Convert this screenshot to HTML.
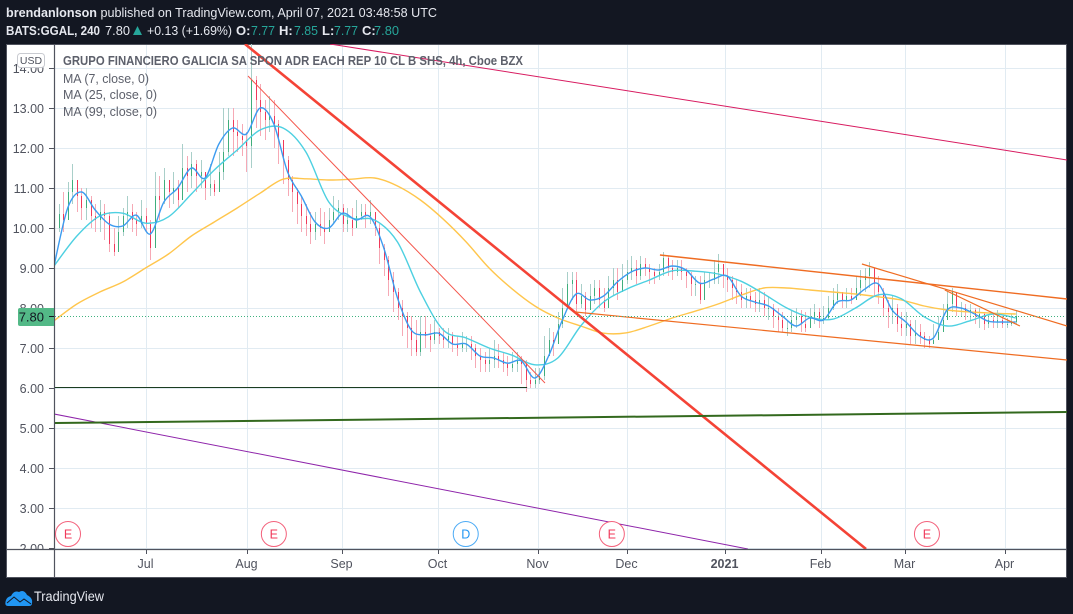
<!DOCTYPE html>
<html lang="en"><head><meta charset="utf-8"><title>GGAL chart</title>
<style>
html,body{margin:0;padding:0;background:#131722;width:1073px;height:614px;overflow:hidden}
svg{display:block;font-family:"Liberation Sans",sans-serif}
</style></head>
<body>
<svg id="chart" width="1073" height="614" viewBox="0 0 1073 614" xmlns="http://www.w3.org/2000/svg">
<defs><clipPath id="plot"><rect x="55" y="44" width="1012" height="505"/></clipPath>
<clipPath id="yaxis"><rect x="7" y="44" width="47" height="505"/></clipPath></defs>
<rect x="0" y="0" width="1073" height="614" fill="#131722"/>
<text x="6" y="17" font-size="13" fill="#e6e8ef" textLength="431" lengthAdjust="spacingAndGlyphs"><tspan font-weight="bold">brendanlonson</tspan> published on TradingView.com, April 07, 2021 03:48:58 UTC</text>
<text x="6" y="35" font-size="13" font-weight="bold" fill="#e6e8ef" textLength="94" lengthAdjust="spacingAndGlyphs">BATS:GGAL, 240</text>
<text x="105" y="35" font-size="13" fill="#e6e8ef" textLength="25" lengthAdjust="spacingAndGlyphs">7.80</text>
<path d="M133 35 L137.5 26 L142 35 Z" fill="#26a69a"/>
<text x="147" y="35" font-size="13" fill="#e6e8ef" textLength="85" lengthAdjust="spacingAndGlyphs">+0.13 (+1.69%)</text>
<text x="236" y="35" font-size="13" font-weight="bold" fill="#e6e8ef">O:</text>
<text x="251" y="35" font-size="13" fill="#26a69a" textLength="24" lengthAdjust="spacingAndGlyphs">7.77</text>
<text x="279" y="35" font-size="13" font-weight="bold" fill="#e6e8ef">H:</text>
<text x="294" y="35" font-size="13" fill="#26a69a" textLength="24" lengthAdjust="spacingAndGlyphs">7.85</text>
<text x="322" y="35" font-size="13" font-weight="bold" fill="#e6e8ef">L:</text>
<text x="334" y="35" font-size="13" fill="#26a69a" textLength="24" lengthAdjust="spacingAndGlyphs">7.77</text>
<text x="362" y="35" font-size="13" font-weight="bold" fill="#e6e8ef">C:</text>
<text x="374" y="35" font-size="13" fill="#26a69a" textLength="25" lengthAdjust="spacingAndGlyphs">7.80</text>
<rect x="6.5" y="44.5" width="1060" height="533" fill="#ffffff" stroke="#50535e"/>
<g id="grid"></g>
<g id="ylabels" clip-path="url(#yaxis)"></g>
<g id="candles" clip-path="url(#plot)"></g>
<g id="mas" clip-path="url(#plot)"></g>
<g id="drawings" clip-path="url(#plot)"></g>
<line x1="55" x2="1066" y1="316.5" y2="316.5" stroke="#3fb27f" stroke-width="1" stroke-dasharray="1 2"/>
<line x1="54.5" x2="54.5" y1="44" y2="578" stroke="#50535e" stroke-width="1.2"/>
<line x1="7" x2="1066" y1="549.5" y2="549.5" stroke="#50535e" stroke-width="1.2"/>
<g id="xlabels"></g>
<g id="earn"></g>
<path d="M20 308 H54 V326 H20 Q18 326 18 324 V310 Q18 308 20 308 Z" fill="#53b987"/>
<text x="44" y="321.5" font-size="13" text-anchor="end" fill="#131722">7.80</text>
<line x1="49" x2="54" y1="316.5" y2="316.5" stroke="#131722"/>
<rect x="17.5" y="53.5" width="27" height="14" rx="3" fill="#ffffff" stroke="#c9cbd1"/>
<text x="31" y="64" font-size="10.5" text-anchor="middle" fill="#50535e">USD</text>
<text x="63" y="65" font-size="12.5" font-weight="bold" fill="#5d606b" textLength="460" lengthAdjust="spacingAndGlyphs">GRUPO FINANCIERO GALICIA SA SPON ADR EACH REP 10 CL B SHS, 4h, Cboe BZX</text>
<text x="63" y="83" font-size="13" fill="#5d606b" textLength="86" lengthAdjust="spacingAndGlyphs">MA (7, close, 0)</text>
<text x="63" y="99" font-size="13" fill="#5d606b" textLength="94" lengthAdjust="spacingAndGlyphs">MA (25, close, 0)</text>
<text x="63" y="116" font-size="13" fill="#5d606b" textLength="94" lengthAdjust="spacingAndGlyphs">MA (99, close, 0)</text>
<g>
<path d="M8 606 Q4 606 6 600 Q7 597 11 596 Q14 590 19 592 Q24 589 27 595 Q33 598 32 603 Q32 606 29 606 Z" fill="#2196f3"/>
<path d="M7 603 L14 597 L20 602 L24 599 L31 604" fill="none" stroke="#131722" stroke-width="1"/>
<text x="34" y="601" font-size="13.5" fill="#e6e8ef" textLength="70" lengthAdjust="spacingAndGlyphs">TradingView</text>
</g>
</svg>
<script>
const closes=[10.0,10.35,10.2,10.9,11.2,10.8,10.5,10.7,10.3,10.2,
10.4,10.3,9.6,9.4,9.9,10.3,10.4,10.2,10.1,10.3,
10.1,9.5,10.8,10.7,11.2,10.9,11.0,10.7,11.5,11.3,
11.6,11.3,11.4,11.0,11.1,10.9,11.4,11.9,12.7,12.4,
12.3,12.2,12.05,13.7,13.2,12.9,12.7,12.8,12.6,12.2,
11.7,11.2,10.9,10.6,10.3,10.1,9.9,10.1,10.0,9.9,
10.2,10.4,10.5,10.1,10.2,10.0,10.3,10.4,10.3,10.4,
10.0,9.5,9.2,8.7,8.4,8.0,7.8,7.5,7.2,6.9,
7.4,7.3,7.2,7.4,7.3,7.2,7.3,7.1,7.0,7.1,
7.1,7.0,6.8,6.7,6.6,6.7,6.8,6.7,6.6,6.5,
6.6,6.7,6.6,6.2,6.1,6.2,6.3,6.8,7.2,7.1,
7.6,8.0,8.6,8.7,8.1,8.3,7.95,8.3,8.5,8.2,
8.0,8.5,8.7,8.4,8.7,8.9,9.0,8.8,9.1,9.0,
8.9,8.8,8.9,9.25,9.0,8.9,9.0,8.9,8.8,8.6,
8.6,8.2,8.7,8.7,8.9,9.1,8.8,8.7,8.5,8.4,
8.2,8.3,8.2,8.1,8.2,8.0,8.0,7.8,7.7,7.5,
7.5,7.7,7.8,7.6,7.5,7.75,7.9,7.7,7.75,8.0,
8.2,8.4,8.2,8.3,8.2,8.5,8.7,8.8,9.0,8.6,
8.4,8.0,7.9,8.0,7.6,7.5,7.6,7.3,7.4,7.3,
7.2,7.1,7.2,7.4,7.7,8.1,8.4,8.0,8.0,7.9,
7.95,7.8,7.85,7.6,7.7,7.65,7.7,7.6,7.6,7.65,7.8];
const highs=[10.4,10.6,10.9,11.15,11.6,11.2,11.0,11.0,10.8,10.6,
10.7,10.6,10.4,10.0,10.3,10.5,10.8,10.6,10.4,10.7,
10.5,10.2,11.4,11.3,11.5,11.2,11.4,11.2,12.1,11.8,
11.9,11.7,11.7,11.4,11.6,11.2,11.9,13.0,13.0,13.0,
12.7,12.6,12.4,14.6,13.8,13.6,13.2,13.3,13.2,12.7,
12.2,11.8,11.3,11.0,10.8,10.6,10.4,10.4,10.5,10.4,
10.5,10.8,10.7,10.6,10.5,10.5,10.7,10.6,10.6,10.7,
10.4,10.1,9.6,9.3,8.9,8.5,8.2,7.9,7.8,7.7,
7.8,7.8,7.6,7.7,7.5,7.5,7.5,7.4,7.3,7.4,
7.3,7.3,7.1,7.0,6.9,7.0,7.2,7.1,6.9,6.8,
6.9,6.9,6.8,6.7,6.4,6.5,6.5,7.3,7.5,7.4,
7.9,8.5,8.9,8.9,8.9,8.6,8.4,8.6,8.7,8.7,
8.5,8.8,9.0,9.0,9.1,9.2,9.3,9.2,9.3,9.25,
9.1,9.0,9.1,9.4,9.3,9.2,9.2,9.2,9.0,8.9,
8.8,8.8,8.9,8.9,9.2,9.35,9.1,9.0,8.8,8.7,
8.6,8.5,8.5,8.4,8.5,8.4,8.3,8.1,8.0,7.9,
7.7,7.95,8.0,7.95,7.9,8.0,8.1,8.0,8.05,8.3,
8.5,8.6,8.4,8.5,8.5,8.8,8.95,9.0,9.15,9.0,
8.8,8.5,8.2,8.3,8.1,7.9,7.9,7.7,7.7,7.6,
7.4,7.3,7.6,7.8,8.1,8.4,8.5,8.4,8.15,8.1,
8.1,8.0,8.0,7.9,7.85,7.85,7.95,7.8,7.75,7.85,7.95];
const lows=[9.7,9.9,9.9,10.5,10.6,10.4,10.2,10.2,10.0,9.9,
9.9,9.7,9.4,9.3,9.5,9.8,10.0,9.9,9.8,10.0,
9.9,9.2,9.7,10.2,10.6,10.5,10.6,10.5,10.8,10.9,
11.0,10.9,11.0,10.7,10.8,10.8,10.9,11.2,11.8,11.8,
11.9,11.8,11.4,11.5,12.5,12.3,12.2,12.4,12.0,11.6,
11.1,10.8,10.4,10.1,9.9,9.8,9.6,9.7,9.8,9.6,
9.9,10.1,10.2,9.9,9.9,9.8,10.0,10.2,10.0,10.1,
9.8,9.1,8.8,8.3,7.9,7.7,7.3,7.0,6.8,6.8,
6.8,7.0,6.9,7.1,7.1,7.0,7.0,6.9,6.8,6.9,
6.9,6.7,6.5,6.4,6.4,6.4,6.5,6.5,6.4,6.3,
6.4,6.4,6.1,5.9,6.0,6.0,6.1,6.2,6.8,6.8,
7.1,7.5,8.0,8.2,7.9,8.0,7.8,8.0,8.1,8.0,
7.9,8.0,8.3,8.2,8.4,8.6,8.7,8.6,8.7,8.8,
8.6,8.6,8.7,8.8,8.8,8.7,8.8,8.7,8.5,8.3,
8.3,8.1,8.2,8.5,8.6,8.6,8.5,8.4,8.2,8.1,
8.0,8.0,8.0,7.9,7.9,7.8,7.7,7.5,7.4,7.4,
7.3,7.4,7.5,7.4,7.4,7.5,7.6,7.5,7.6,7.7,
7.95,8.1,8.0,8.0,8.1,8.2,8.3,8.4,8.5,8.3,
8.1,7.8,7.5,7.6,7.4,7.3,7.3,7.1,7.1,7.1,
7.0,7.0,7.1,7.3,7.5,7.7,7.9,7.8,7.8,7.7,
7.7,7.6,7.5,7.45,7.5,7.5,7.5,7.5,7.5,7.55,7.6];
const firstOpen=9.7;
const ma7=[9.05,10.5,10.9,10.45,10.1,10.05,10.32,9.85,10.65,11.0,11.5,11.25,12.1,12.5,12.35,13.0,12.6,11.4,10.8,10.15,10.0,10.37,10.2,10.28,9.5,8.25,7.45,7.33,7.37,7.1,7.1,6.8,6.75,6.62,6.68,6.25,6.8,7.7,8.35,8.2,8.3,8.65,8.9,9.0,8.95,9.05,8.95,8.62,8.72,8.8,8.3,8.15,8.05,7.8,7.55,7.75,7.7,8.15,8.2,8.47,8.6,7.95,7.65,7.3,7.25,7.95,8.0,7.85,7.67,7.65,7.65];
const ma25=[9.05,9.8,10.3,10.37,10.12,10.28,10.85,11.45,11.95,12.45,12.5,11.9,10.65,10.25,10.2,9.65,8.4,7.45,7.25,7.0,6.82,6.58,6.75,7.55,8.15,8.47,8.7,8.93,8.92,8.85,8.67,8.35,8.0,7.77,7.72,8.0,8.33,8.23,7.78,7.55,7.68,7.85,7.75];
const ma99=[7.68,8.1,8.4,8.65,9.0,9.35,9.8,10.15,10.5,10.87,11.22,11.23,11.2,11.22,11.25,11.05,10.7,10.22,9.65,9.0,8.48,8.05,7.75,7.55,7.37,7.38,7.55,7.75,7.92,8.1,8.32,8.5,8.5,8.45,8.4,8.35,8.28,8.2,8.05,7.95,7.9,7.87,7.85];
const ma7StepDays=3;
const ma25StepDays=5;
const ma99StepDays=5;
const priceTicks=[14,13,12,11,10,9,8,7,6,5,4,3,2];
const monthLabels=["Jul","Aug","Sep","Oct","Nov","Dec","2021","Feb","Mar","Apr"];
const monthDays=[20.1,42.1,62.9,83.8,105.7,125.1,146.5,167.5,185.8,207.6];
const eventDays=[3.06,48,89.9,121.8,190.6];
const eventLetters=["E","E","D","E","E"];
const trendNames=["major-downtrend-line","minor-downtrend-line","upper-crimson-line","purple-support-line","green-support-line","dark-support-line","channel-top-line","channel-bottom-line","orange-wedge-upper-line","orange-wedge-lower-line"];
const trendStartDays=[41.7,42.36,60.26,0,0,0,132.3,113.8,176.4,194.5];
const trendStartPrices=[14.6,13.8,14.6,5.35,5.125,6.0125,9.325,7.9,9.1,8.45];
const trendEndDays=[177.3,107.2,221.2,151.5,221.2,103.3,221.2,221.2,221.2,210.9];
const trendEndPrices=[1.975,6.125,11.7,1.975,5.4,6.0125,8.225,6.7,7.55,7.55];
const trendColors=["#f44336","#f4564c","#d81b60","#8e24aa","#33691e","#1b3d20","#ef6c22","#ef6c22","#ef6c22","#ef6c22"];
const trendWidths=[2.6,1,1,1,2,1,1.4,1.2,1.2,1.2];

const NS="http://www.w3.org/2000/svg";
function xAt(day){return 54+4.58*day;}
function yAt(price){return 68+(14-price)*40;}
function make(parent,tag,attrs){const el=document.createElementNS(NS,tag);for(const k in attrs)el.setAttribute(k,attrs[k]);parent.appendChild(el);return el;}
const grid=document.getElementById('grid'),ylabels=document.getElementById('ylabels'),xlabels=document.getElementById('xlabels');
priceTicks.forEach(function(p){
  const y=Math.round(yAt(p))+0.5;
  const g=make(grid,'line',{x1:55,x2:1066,y1:y,y2:y,stroke:'#e1ebf2','stroke-width':1});
  
  
  const t=make(ylabels,'line',{x1:49,x2:54,y1:y,y2:y,stroke:'#50535e'});
  
  
  const l=make(ylabels,'text',{x:44,y:y+4.5,'font-size':12.5,'text-anchor':'end',fill:'#50535e'});
  l.textContent=p.toFixed(2);
  
  
});
monthLabels.forEach(function(m,i){
  const x=Math.round(xAt(monthDays[i]))+0.5;
  const g=make(grid,'line',{x1:x,x2:x,y1:45,y2:549,stroke:'#e1ebf2','stroke-width':1});
  
  
  const t=make(xlabels,'line',{x1:x,x2:x,y1:549,y2:554,stroke:'#50535e'});
  
  
  const l=make(xlabels,'text',{x:x-1,y:568,'font-size':12.5,'text-anchor':'middle',fill:'#50535e','font-weight':m==='2021'?'bold':'normal'});
  l.textContent=m;
  
  
});
const candleLayer=document.getElementById('candles');
closes.forEach(function(c,i){
  const o=i===0?firstOpen:closes[i-1];
  const up=c>=o;
  const x=Math.round(xAt(i))+0.5;
  const wick=make(candleLayer,'line',{x1:x,x2:x,y1:yAt(highs[i]),y2:yAt(lows[i]),stroke:up?'#a9cfc9':'#f6a9b5','stroke-width':1});
  
  
  const top=yAt(Math.max(o,c)),bot=yAt(Math.min(o,c));
  const body=make(candleLayer,'rect',{x:x-0.5,y:top,width:1,height:Math.max(1,bot-top),fill:up?'#3fae7c':'#f0395a'});
  
  
});
const maLayer=document.getElementById('mas');
function maPath(values,step){
  const pts=values.map(function(v,i){return [xAt(i*step),yAt(v)];});
  let d='M'+pts[0][0].toFixed(1)+' '+pts[0][1].toFixed(1);
  for(let i=0;i<pts.length-1;i++){
    const p0=pts[Math.max(0,i-1)],p1=pts[i],p2=pts[i+1],p3=pts[Math.min(pts.length-1,i+2)];
    const c1x=p1[0]+(p2[0]-p0[0])/6,c1y=p1[1]+(p2[1]-p0[1])/6;
    const c2x=p2[0]-(p3[0]-p1[0])/6,c2y=p2[1]-(p3[1]-p1[1])/6;
    d+=' C'+c1x.toFixed(1)+' '+c1y.toFixed(1)+' '+c2x.toFixed(1)+' '+c2y.toFixed(1)+' '+p2[0].toFixed(1)+' '+p2[1].toFixed(1);
  }
  return d;
}
const lineMa99=make(maLayer,'path',{d:maPath(ma99,ma99StepDays),fill:'none',stroke:'#ffc64d','stroke-width':1.4});


const lineMa25=make(maLayer,'path',{d:maPath(ma25,ma25StepDays),fill:'none',stroke:'#4dd0e1','stroke-width':1.4});


const lineMa7=make(maLayer,'path',{d:maPath(ma7,ma7StepDays),fill:'none',stroke:'#3d9cf0','stroke-width':1.4});


const drawLayer=document.getElementById('drawings');
trendNames.forEach(function(n,i){
  const l=make(drawLayer,'line',{x1:xAt(trendStartDays[i]),y1:yAt(trendStartPrices[i]),x2:xAt(trendEndDays[i]),y2:yAt(trendEndPrices[i]),stroke:trendColors[i],'stroke-width':trendWidths[i]});
  
  
});
const earnLayer=document.getElementById('earn');
eventDays.forEach(function(d,i){
  const col=eventLetters[i]==='D'?'#2196f3':'#f0395a';
  const cx=xAt(d);
  const c=make(earnLayer,'circle',{cx:cx,cy:534,r:12.5,fill:'#ffffff',stroke:col,'stroke-width':1,'stroke-opacity':0.8});
  
  
  const t=make(earnLayer,'text',{x:cx,y:538.5,'font-size':12.5,'text-anchor':'middle',fill:col});
  t.textContent=eventLetters[i];
  
  
});
</script>
</body></html>
